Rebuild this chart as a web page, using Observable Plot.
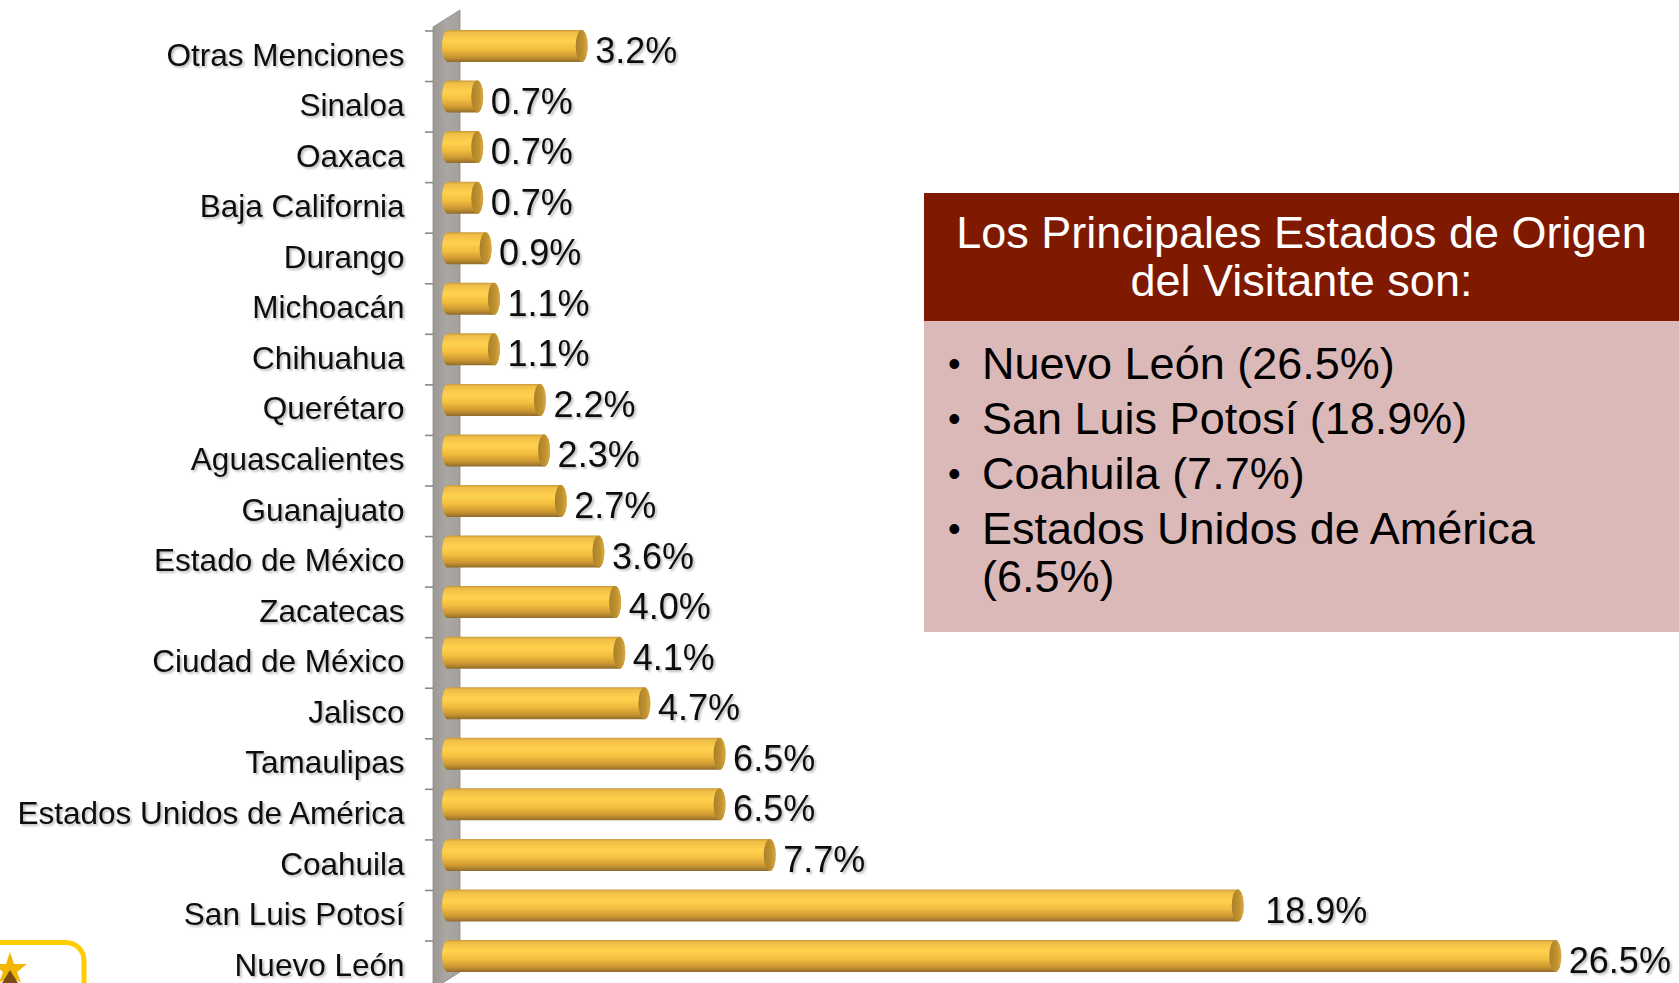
<!DOCTYPE html>
<html>
<head>
<meta charset="utf-8">
<script src="https://cdn.jsdelivr.net/npm/d3@7"></script>
<script src="https://cdn.jsdelivr.net/npm/@observablehq/plot@0.6"></script>
<style>
  html, body { margin: 0; padding: 0; background: #fff; }
  body { width: 1679px; height: 983px; overflow: hidden; position: relative; font-family: "Liberation Sans", Arial, sans-serif; }
  #chart { position: absolute; left: 0; top: 0; }
  #chart svg { overflow: hidden; }
  #box { position: absolute; left: 924px; top: 193px; width: 755px; height: 439px; background: #dbb9b8; }
  #box .hd { background: #7f1a00; color: #fff; height: 128px; font-size: 45px; line-height: 48px; text-align: center; display: flex; align-items: center; justify-content: center; }
  #box ul { list-style: none; margin: 0; padding: 19px 20px 0 0; }
  #box li { position: relative; padding-left: 58px; font-size: 45px; line-height: 48px; margin-bottom: 7px; color: #000; }
  #box li::before { content: "•"; position: absolute; left: 24px; top: 0; font-size: 36px; }
  #logo { position: absolute; left: 0; top: 930px; }
  g[aria-label="y-axis tick label"] text, g.vals text { filter: url(#txtShadow); }
</style>
</head>
<body>
<div id="chart"></div>
<div id="box">
  <div class="hd"><div>Los Principales Estados de Origen<br>del Visitante son:</div></div>
  <ul id="lista"></ul>
</div>
<svg id="logo" width="100" height="53">
  <rect x="-20" y="12.5" width="104" height="60" rx="18" fill="none" stroke="#ffcc00" stroke-width="5"/>
  <polygon points="10,22 14,34 27,34 17,42 21,53 10,46 -1,53 3,42 -7,34 6,34" fill="#f2b705"/>
  <polygon points="10,40 18,53 2,53" fill="#7a4b12"/>
</svg>
<script>
const estados = ["Otras Menciones","Sinaloa","Oaxaca","Baja California","Durango","Michoacán","Chihuahua","Querétaro","Aguascalientes","Guanajuato","Estado de México","Zacatecas","Ciudad de México","Jalisco","Tamaulipas","Estados Unidos de América","Coahuila","San Luis Potosí","Nuevo León"];
const porcentajes = [3.2,0.7,0.7,0.7,0.9,1.1,1.1,2.2,2.3,2.7,3.6,4.0,4.1,4.7,6.5,6.5,7.7,18.9,26.5];
const principales = ["Nuevo León (26.5%)","San Luis Potosí (18.9%)","Coahuila (7.7%)","Estados Unidos de América (6.5%)"];

const data = estados.map((estado, i) => ({estado, valor: porcentajes[i]}));
const fmt = v => v.toFixed(1) + "%";

const NS = "http://www.w3.org/2000/svg";
function el(tag, attrs) {
  const e = document.createElementNS(NS, tag);
  for (const k in attrs) e.setAttribute(k, attrs[k]);
  return e;
}

// Decorative 3D wall, defs and axis ticks, positioned from the scales
function wall(index, scales) {
  const g = el("g", {});
  const defs = el("defs", {});
  const grad = el("linearGradient", {id: "barGrad", x1: 0, y1: 0, x2: 0, y2: 1});
  [[0, "#c79a3c"], [0.08, "#f0bd45"], [0.35, "#ffd24e"], [0.6, "#f3bd3f"], [0.85, "#c99530"], [1, "#8f6b2c"]]
    .forEach(([o, c]) => grad.appendChild(el("stop", {offset: o, "stop-color": c})));
  const cap = el("linearGradient", {id: "capGrad", x1: 0, y1: 0, x2: 1, y2: 0});
  [[0, "#a97f2a"], [0.6, "#c0922f"], [1, "#d9aa45"]]
    .forEach(([o, c]) => cap.appendChild(el("stop", {offset: o, "stop-color": c})));
  const wallG = el("linearGradient", {id: "wallGrad", x1: 0, y1: 0, x2: 1, y2: 0});
  [[0, "#9c9894"], [0.5, "#aaa6a2"], [1, "#a4a09c"]]
    .forEach(([o, c]) => wallG.appendChild(el("stop", {offset: o, "stop-color": c})));
  const f = el("filter", {id: "txtShadow", x: "-10%", y: "-20%", width: "130%", height: "160%"});
  f.appendChild(el("feDropShadow", {dx: 1.8, dy: 1.8, stdDeviation: 1.2, "flood-color": "#000", "flood-opacity": 0.28}));
  defs.append(grad, cap, wallG, f);
  g.appendChild(defs);

  const x = scales.x, y = scales.y;
  const x0 = x(0);
  const bw = y.bandwidth ? y.bandwidth() : 32;
  const dom = y.domain ? y.domain() : estados;
  const top = y(dom[0]);
  const bot = y(dom[dom.length - 1]) + bw;
  const xl = x0 - 21, xr = x0 + 6;
  g.appendChild(el("polygon", {
    points: `${xl},${top - 3} ${xr},${top - 20} ${xr},${bot} ${xl},${bot + 17}`,
    fill: "url(#wallGrad)", stroke: "#8e8a87", "stroke-width": 0.8
  }));
  for (const d of dom) {
    const yy = y(d) + 1;
    g.appendChild(el("line", {x1: xl - 8, x2: xl, y1: yy, y2: yy, stroke: "#8a8a8a", "stroke-width": 1.6}));
  }
  return g;
}

const slp = "San Luis Potosí";

const chart = Plot.plot({
  width: 1679,
  height: 983,
  marginLeft: 454,
  marginRight: 55,
  marginTop: 0,
  marginBottom: 0,
  style: {fontFamily: "'Liberation Sans', Arial, sans-serif", background: "transparent", overflow: "hidden"},
  x: {domain: [0, 28], axis: null},
  y: {domain: estados, range: [11.4, 990.6], padding: 0.367, round: false, label: null},
  marks: [
    wall,
    Plot.barX(data, {y: "estado", x: "valor", fill: "url(#barGrad)", insetLeft: -12, rx: 6, ry: 16}),
    Plot.barX(data, {y: "estado", x1: "valor", x2: "valor", insetLeft: -12, fill: "url(#capGrad)", rx: 6, ry: 16}),
    Plot.axisY({tickSize: 0, tickPadding: 50, fontSize: 31.5, fill: "#111", label: null, dy: 9}),
    Plot.text(data.filter(d => d.estado !== slp), {y: "estado", x: "valor", text: d => fmt(d.valor), textAnchor: "start", dx: 7, dy: 5, fontSize: 36, fill: "#111", className: "vals"}),
    Plot.text(data.filter(d => d.estado === slp), {y: "estado", x: "valor", text: d => fmt(d.valor), textAnchor: "start", dx: 21, dy: 5, fontSize: 36, fill: "#111", className: "vals"})
  ]
});
document.getElementById("chart").appendChild(chart);

const ul = document.getElementById("lista");
for (const t of principales) {
  const li = document.createElement("li");
  li.textContent = t;
  ul.appendChild(li);
}
</script>
</body>
</html>
